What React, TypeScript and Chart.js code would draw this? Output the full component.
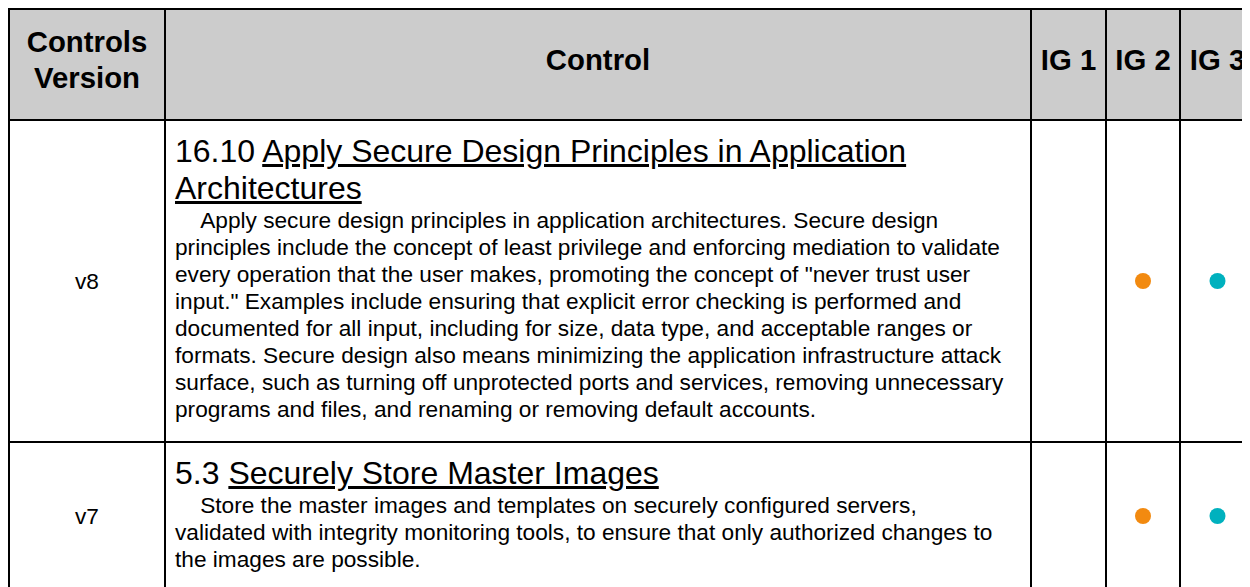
import React, { useEffect, useRef } from 'react';
import { Chart, registerables } from 'chart.js';

Chart.register(...registerables);

// ---- data ----
const headerLabels = ['Controls\nVersion', 'Control'];
const igLabels = ['IG 1', 'IG 2', 'IG 3'];
const versions = ['v8', 'v7'];
const safeguardIds = ['16.10', '5.3'];
const safeguardTitles = [
  'Apply Secure Design Principles in Application Architectures',
  'Securely Store Master Images',
];
const descriptionLines = [
  [
    '\u00a0\u00a0\u00a0\u00a0Apply secure design principles in application architectures. Secure design',
    'principles include the concept of least privilege and enforcing mediation to validate',
    'every operation that the user makes, promoting the concept of "never trust user',
    'input." Examples include ensuring that explicit error checking is performed and',
    'documented for all input, including for size, data type, and acceptable ranges or',
    'formats. Secure design also means minimizing the application infrastructure attack',
    'surface, such as turning off unprotected ports and services, removing unnecessary',
    'programs and files, and renaming or removing default accounts.',
  ],
  [
    '\u00a0\u00a0\u00a0\u00a0Store the master images and templates on securely configured servers,',
    'validated with integrity monitoring tools, to ensure that only authorized changes to',
    'the images are possible.',
  ],
];
const ig1Marks = [0, 0];
const ig2Marks = [1, 1];
const ig3Marks = [1, 1];
const igColors = ['#5E9E3A', '#F28A10', '#00B1BE'];

const igMarks = [ig1Marks, ig2Marks, ig3Marks];

const FONT = '"Liberation Sans", Arial, Helvetica, sans-serif';
const BORDER = '2px solid #000';

function DotCell({ ig, version, marked, color }: { ig: string; version: string; marked: boolean; color: string }) {
  const ref = useRef<HTMLCanvasElement | null>(null);
  useEffect(() => {
    if (!ref.current) return;
    const chart = new Chart(ref.current, {
      type: 'scatter',
      data: {
        labels: [ig],
        datasets: [
          {
            data: marked ? [{ x: ig as any, y: version as any }] : [],
            backgroundColor: color,
            borderColor: color,
            borderWidth: 0,
            pointRadius: 8,
            pointHoverRadius: 8,
          },
        ],
      },
      options: {
        animation: false,
        responsive: true,
        maintainAspectRatio: false,
        events: [],
        layout: { padding: 0 },
        plugins: { legend: { display: false }, tooltip: { enabled: false } },
        scales: {
          x: { type: 'category', labels: [ig], offset: true, display: false },
          y: { type: 'category', labels: [version], offset: true, display: false },
        },
      },
    });
    return () => chart.destroy();
  }, [ig, version, marked, color]);
  return (
    <div style={{ position: 'absolute', inset: 0 }}>
      <canvas ref={ref} />
    </div>
  );
}

const cellBase: React.CSSProperties = {
  boxSizing: 'border-box',
  borderRight: BORDER,
  borderBottom: BORDER,
  position: 'relative',
};

const headerCell: React.CSSProperties = {
  ...cellBase,
  background: '#cccccc',
  fontWeight: 'bold',
  fontSize: '29.33px',
  lineHeight: '36px',
  display: 'flex',
  alignItems: 'center',
  justifyContent: 'center',
  textAlign: 'center',
  whiteSpace: 'pre-line',
  paddingBottom: '10px',
};

export default function App() {
  return (
    <>
      <style>{'html,body{overflow:hidden;}'}</style>
      <div
        style={{
          display: 'grid',
          gridTemplateColumns: '156px 866px 75px 74px 75px',
          gridTemplateRows: '111px 322px 148px',
          borderLeft: BORDER,
          borderTop: BORDER,
          width: 'max-content',
          fontFamily: FONT,
          color: '#000',
        }}
      >
        <div style={headerCell}>{headerLabels[0]}</div>
        <div style={headerCell}>{headerLabels[1]}</div>
        {igLabels.map((l) => (
          <div key={l} style={headerCell}>
            {l}
          </div>
        ))}
        {versions.map((v, r) => (
          <React.Fragment key={v + r}>
            <div
              style={{
                ...cellBase,
                display: 'flex',
                alignItems: 'center',
                justifyContent: 'center',
                fontSize: '22.67px',
              }}
            >
              {v}
            </div>
            <div
              style={{
                ...cellBase,
                padding: '12px 9px',
                whiteSpace: 'nowrap',
                overflow: 'hidden',
              }}
            >
              <div style={{ fontSize: '32px', lineHeight: 'normal', whiteSpace: 'normal' }}>
                {safeguardIds[r]} <span style={{ textDecoration: 'underline' }}>{safeguardTitles[r]}</span>
              </div>
              <div style={{ fontSize: '22.67px', lineHeight: 'normal' }}>
                {descriptionLines[r].map((line, i) => (
                  <div key={i}>{line}</div>
                ))}
              </div>
            </div>
            {igLabels.map((ig, c) => (
              <div key={ig} style={cellBase}>
                <DotCell ig={ig} version={v} marked={!!igMarks[c][r]} color={igColors[c]} />
              </div>
            ))}
          </React.Fragment>
        ))}
      </div>
    </>
  );
}
